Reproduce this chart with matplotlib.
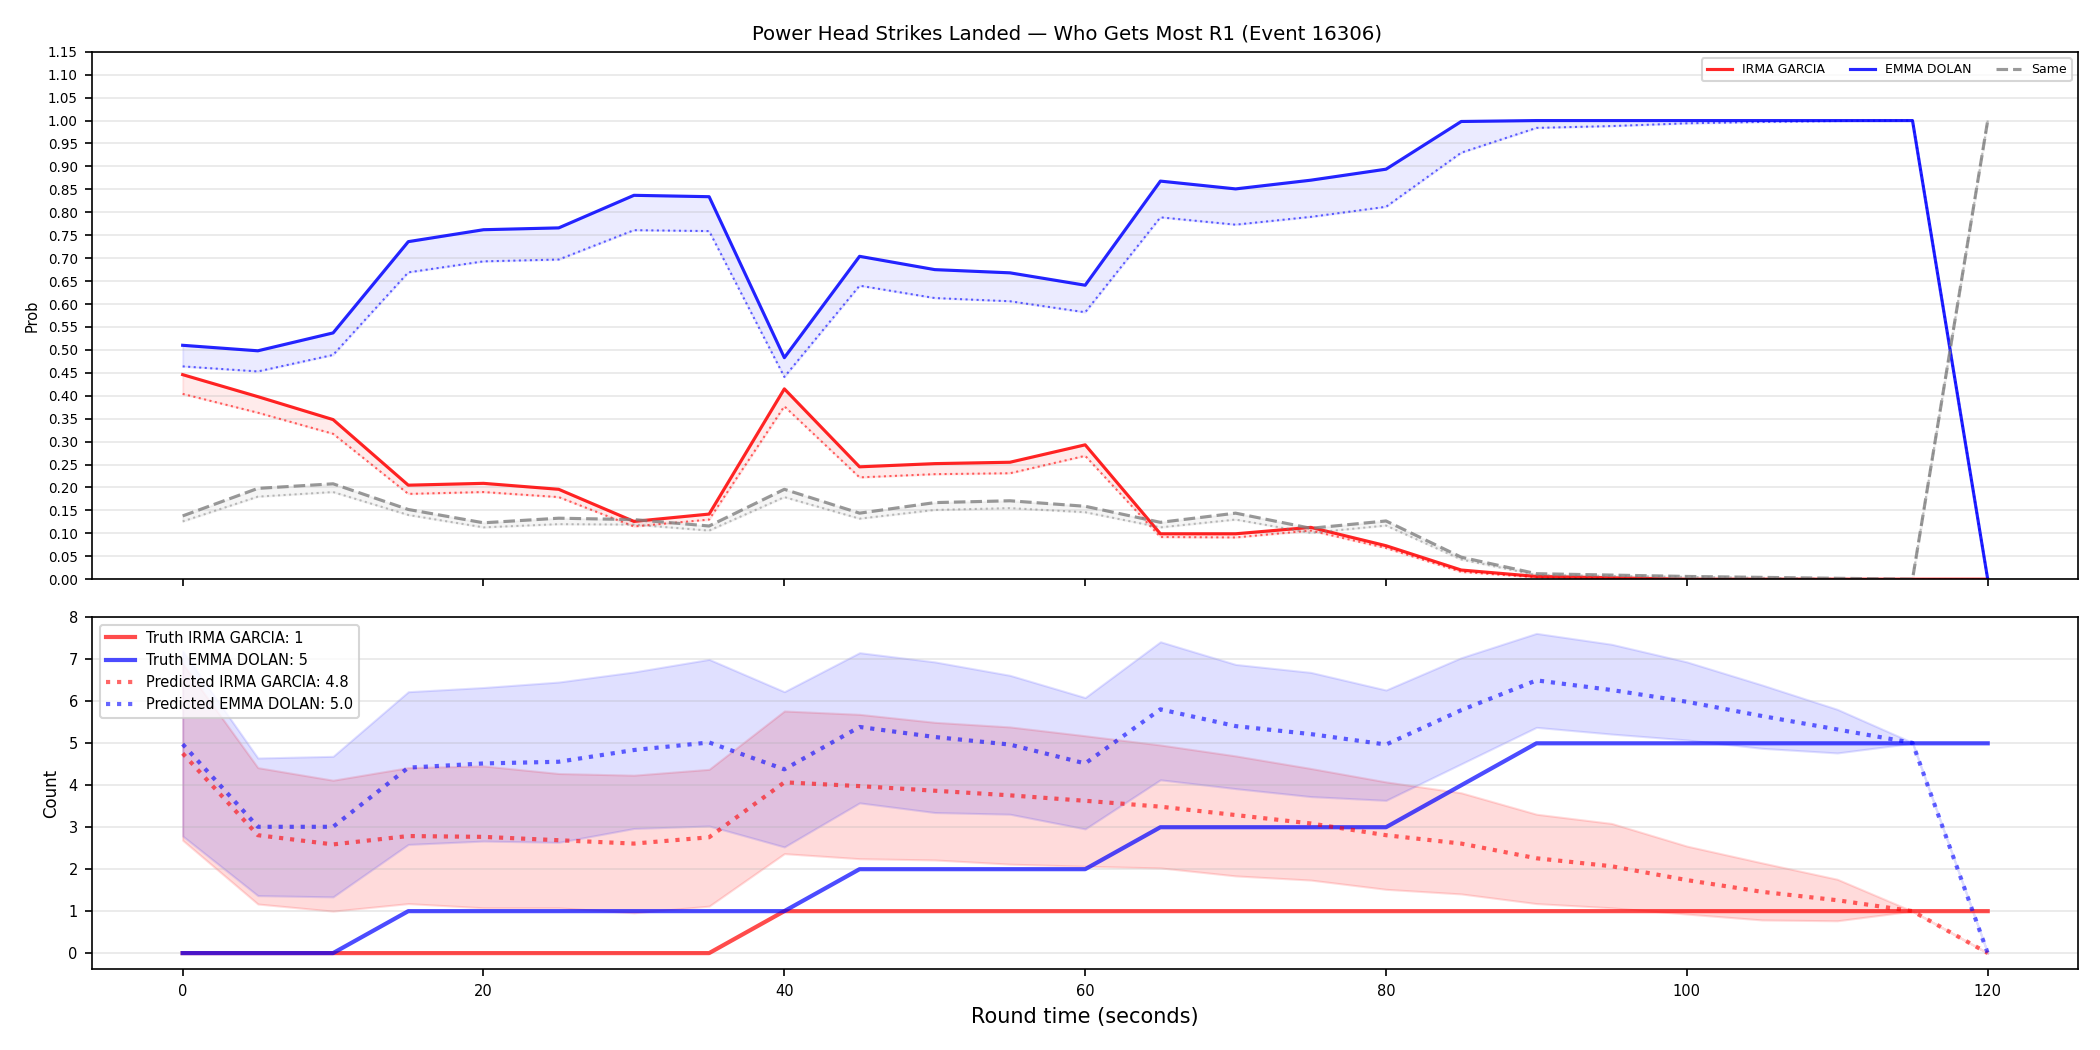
import numpy as np
import matplotlib
matplotlib.use("Agg")
import matplotlib.pyplot as plt

# round time (seconds)
t = [0, 5, 10, 15, 20, 25, 30, 35, 40, 45, 50, 55, 60,
     65, 70, 75, 80, 85, 90, 95, 100, 105, 110, 115, 120]

red_name = "IRMA GARCIA"
blue_name = "EMMA DOLAN"

# top panel: probability of landing most power head strikes in R1
red_prob = [0.446, 0.398, 0.348, 0.205, 0.209, 0.196, 0.126, 0.142, 0.415, 0.245, 0.252, 0.255, 0.293,
            0.099, 0.099, 0.113, 0.073, 0.020, 0.006, 0.003, 0.0, 0.0, 0.0, 0.0, 0.0]
red_prob_pred = [0.404, 0.363, 0.317, 0.186, 0.190, 0.179, 0.115, 0.130, 0.377, 0.222, 0.229, 0.231, 0.269,
                 0.092, 0.091, 0.106, 0.068, 0.016, 0.004, 0.002, 0.0, 0.0, 0.0, 0.0, 0.0]
blue_prob = [0.510, 0.498, 0.537, 0.736, 0.762, 0.766, 0.837, 0.834, 0.483, 0.704, 0.675, 0.668, 0.641,
             0.868, 0.851, 0.870, 0.894, 0.998, 1.0, 1.0, 1.0, 1.0, 1.0, 1.0, 0.0]
blue_prob_pred = [0.464, 0.453, 0.489, 0.669, 0.693, 0.697, 0.761, 0.759, 0.441, 0.640, 0.613, 0.606, 0.582,
                  0.789, 0.773, 0.790, 0.812, 0.930, 0.984, 0.988, 0.994, 0.997, 0.999, 1.0, 0.0]
same_prob = [0.138, 0.198, 0.208, 0.152, 0.123, 0.133, 0.130, 0.116, 0.196, 0.144, 0.167, 0.171, 0.159,
             0.124, 0.144, 0.111, 0.127, 0.048, 0.012, 0.009, 0.006, 0.004, 0.002, 0.0, 1.0]
same_prob_pred = [0.126, 0.180, 0.190, 0.140, 0.113, 0.120, 0.119, 0.106, 0.179, 0.132, 0.151, 0.155, 0.146,
                  0.113, 0.130, 0.101, 0.117, 0.043, 0.009, 0.007, 0.005, 0.003, 0.001, 0.0, 1.0]

# bottom panel: counts
red_truth = [0, 0, 0, 0, 0, 0, 0, 0, 1, 1, 1, 1, 1, 1, 1, 1, 1, 1, 1, 1, 1, 1, 1, 1, 1]
blue_truth = [0, 0, 0, 1, 1, 1, 1, 1, 1, 2, 2, 2, 2, 3, 3, 3, 3, 4, 5, 5, 5, 5, 5, 5, 5]
red_pred = [4.76, 2.81, 2.59, 2.79, 2.77, 2.69, 2.61, 2.76, 4.07, 3.98, 3.87, 3.76, 3.63,
            3.49, 3.29, 3.09, 2.81, 2.61, 2.26, 2.07, 1.74, 1.46, 1.26, 1.0, 0.0]
red_lo = [2.69, 1.17, 1.00, 1.18, 1.08, 1.08, 0.96, 1.12, 2.37, 2.25, 2.22, 2.12, 2.07,
          2.03, 1.84, 1.74, 1.52, 1.41, 1.18, 1.08, 0.93, 0.79, 0.77, 1.0, 0.0]
red_hi = [6.90, 4.42, 4.12, 4.42, 4.46, 4.28, 4.24, 4.38, 5.77, 5.69, 5.50, 5.39, 5.18,
          4.96, 4.70, 4.40, 4.08, 3.82, 3.31, 3.09, 2.55, 2.15, 1.76, 1.0, 0.0]
blue_pred = [4.98, 3.01, 3.01, 4.42, 4.52, 4.56, 4.84, 5.02, 4.38, 5.39, 5.15, 4.97, 4.52,
             5.81, 5.41, 5.22, 4.97, 5.79, 6.50, 6.27, 5.99, 5.65, 5.33, 5.01, 0.0]
blue_lo = [2.79, 1.37, 1.34, 2.59, 2.67, 2.64, 2.97, 3.03, 2.53, 3.58, 3.35, 3.31, 2.96,
           4.13, 3.92, 3.73, 3.64, 4.51, 5.38, 5.22, 5.08, 4.88, 4.77, 5.0, 0.0]
blue_hi = [7.20, 4.65, 4.69, 6.23, 6.33, 6.46, 6.70, 7.00, 6.23, 7.16, 6.94, 6.62, 6.09,
           7.42, 6.88, 6.69, 6.27, 7.04, 7.62, 7.36, 6.94, 6.39, 5.81, 5.02, 0.0]

fig, (ax1, ax2) = plt.subplots(2, 1, figsize=(14, 7), dpi=150, sharex=True,
                               gridspec_kw=dict(height_ratios=[3, 2], hspace=0.087))
fig.subplots_adjust(left=0.044, right=0.9895, top=0.9507, bottom=0.0771)

# --- top: probabilities ---
ax1.plot(t, red_prob, color="red", alpha=0.85, lw=1.5, label=red_name)
ax1.plot(t, red_prob_pred, color="red", alpha=0.6, lw=1, ls=":")
ax1.fill_between(t, red_prob_pred, red_prob, color="red", alpha=0.08)
ax1.plot(t, blue_prob, color="blue", alpha=0.85, lw=1.5, label=blue_name)
ax1.plot(t, blue_prob_pred, color="blue", alpha=0.6, lw=1, ls=":")
ax1.fill_between(t, blue_prob_pred, blue_prob, color="blue", alpha=0.08)
ax1.plot(t, same_prob, color="gray", alpha=0.8, lw=1.5, ls="--", label="Same")
ax1.plot(t, same_prob_pred, color="gray", alpha=0.5, lw=1, ls=":")
ax1.fill_between(t, same_prob_pred, same_prob, color="gray", alpha=0.08)

ax1.set_ylim(0, 1.15)
ax1.set_yticks(np.arange(0, 1.151, 0.05))
ax1.set_yticklabels([f"{v:.2f}" for v in np.arange(0, 1.151, 0.05)])
ax1.tick_params(labelsize=6.5)
ax1.set_ylabel("Prob", fontsize=7)
ax1.grid(axis="y", alpha=0.3)
ax1.legend(loc="upper right", ncol=3, fontsize=6)
ax1.set_title("Power Head Strikes Landed \u2014 Who Gets Most R1 (Event 16306)", fontsize=9.5, x=0.491)

# --- bottom: counts ---
ax2.fill_between(t, red_lo, red_hi, color="red", alpha=0.14)
ax2.fill_between(t, blue_lo, blue_hi, color="blue", alpha=0.12)
ax2.plot(t, red_truth, color="red", alpha=0.7, lw=2, label=f"Truth {red_name}: {red_truth[-1]}")
ax2.plot(t, blue_truth, color="blue", alpha=0.7, lw=2, label=f"Truth {blue_name}: {blue_truth[-1]}")
ax2.plot(t, red_pred, color="red", alpha=0.6, lw=2, ls=":", label=f"Predicted {red_name}: {red_pred[0]:.1f}")
ax2.plot(t, blue_pred, color="blue", alpha=0.6, lw=2, ls=":", label=f"Predicted {blue_name}: {blue_pred[0]:.1f}")

ax2.set_ylim(-0.38, 8)
ax2.tick_params(labelsize=7)
ax2.set_ylabel("Count", fontsize=8)
ax2.set_xlabel("Round time (seconds)", fontsize=10)
ax2.grid(axis="y", alpha=0.3)
ax2.legend(loc="upper left", fontsize=7)

fig.savefig("out.png")
